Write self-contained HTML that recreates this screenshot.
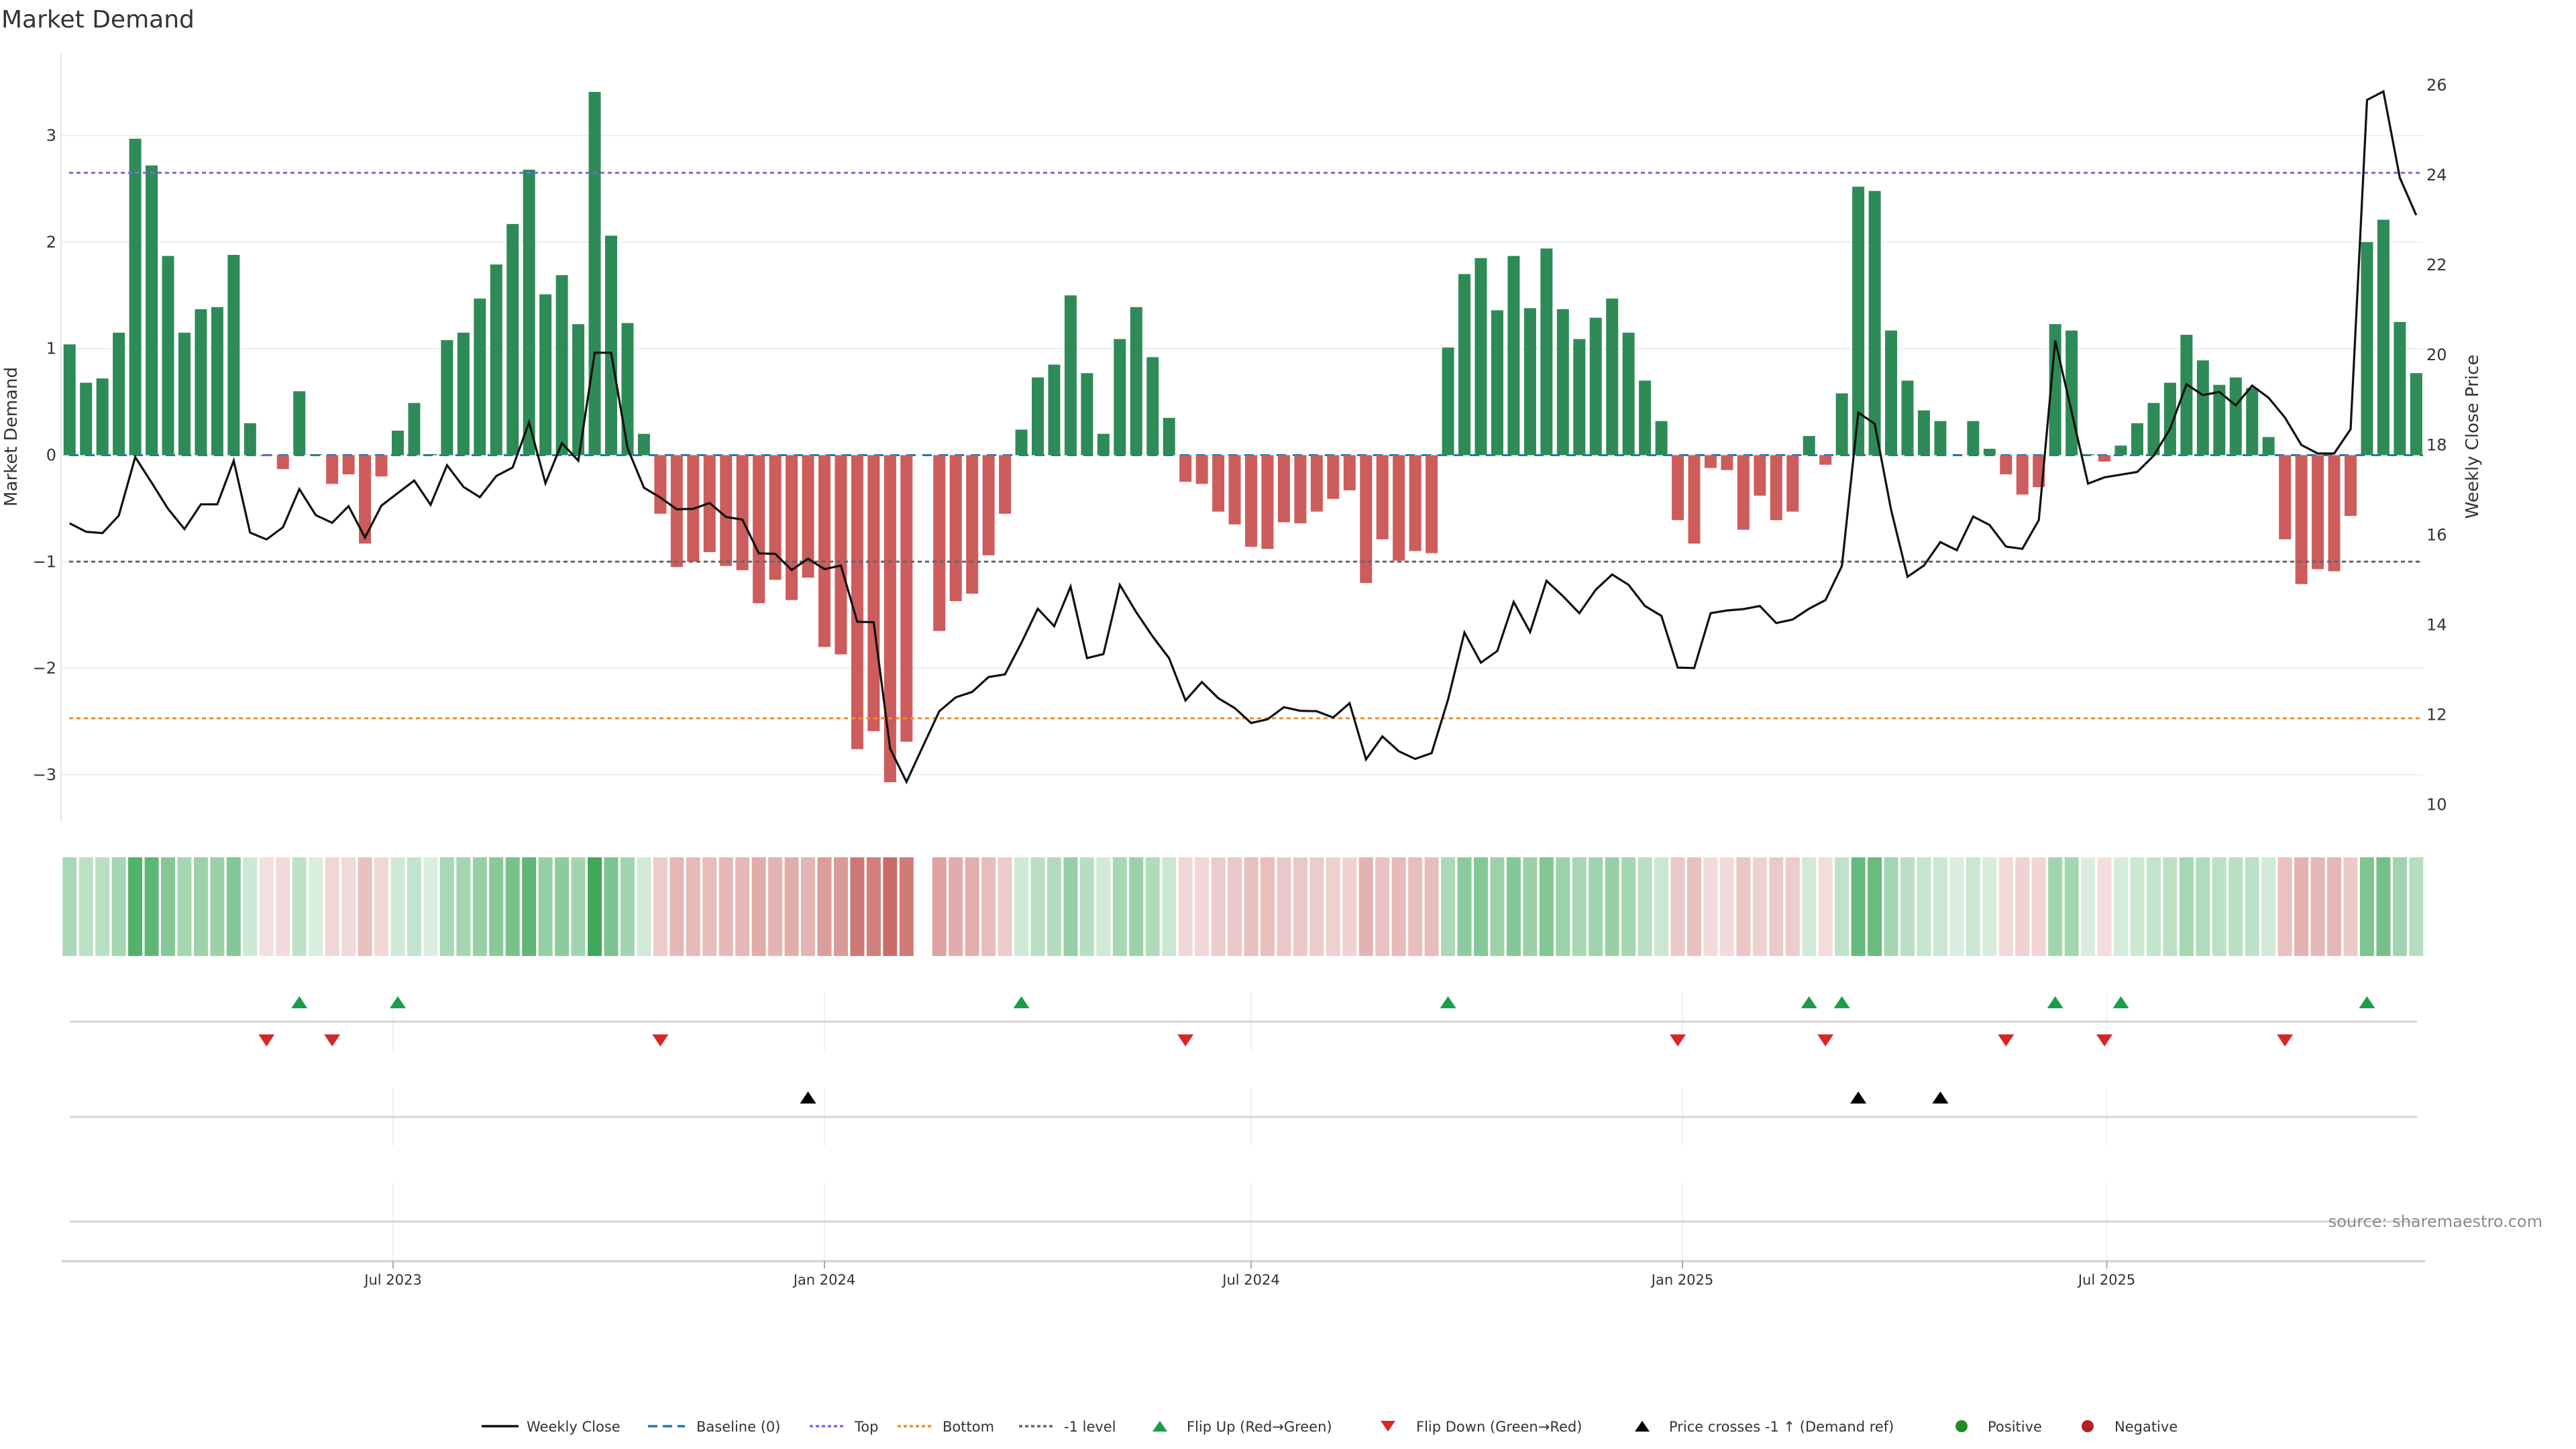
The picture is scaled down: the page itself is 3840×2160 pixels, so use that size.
<!DOCTYPE html>
<html><head><meta charset="utf-8"><style>
html,body{margin:0;padding:0;background:#fff;}
svg{display:block;font-family:"DejaVu Sans","Liberation Sans",sans-serif;}
</style></head><body>
<svg id="chart" width="3840" height="2160" viewBox="0 0 3840 2160" xmlns="http://www.w3.org/2000/svg">
<text x="2" y="41" font-size="36" fill="#333">Market Demand</text>
<g id="g-grid"></g><g id="g-ref"></g><g id="g-bars"></g><g id="g-line"></g><g id="g-axes"></g><g id="g-heat"></g><g id="g-marks"></g><g id="g-legend"></g>
<text x="3790" y="1829" font-size="24" fill="#8a8a8a" text-anchor="end">source: sharemaestro.com</text>
</svg>
<script>
const demand = [1.04,0.68,0.72,1.15,2.97,2.72,1.87,1.15,1.37,1.39,
1.88,0.30,-0.01,-0.13,0.60,0.01,-0.27,-0.18,-0.83,-0.20,
0.23,0.49,0.01,1.08,1.15,1.47,1.79,2.17,2.68,1.51,
1.69,1.23,3.41,2.06,1.24,0.20,-0.55,-1.05,-1.00,-0.91,
-1.04,-1.08,-1.39,-1.17,-1.36,-1.15,-1.80,-1.87,-2.76,-2.59,
-3.07,-2.69,null,-1.65,-1.37,-1.30,-0.94,-0.55,0.24,0.73,
0.85,1.50,0.77,0.20,1.09,1.39,0.92,0.35,-0.25,-0.27,
-0.53,-0.65,-0.86,-0.88,-0.63,-0.64,-0.53,-0.41,-0.33,-1.20,
-0.79,-0.99,-0.90,-0.92,1.01,1.70,1.85,1.36,1.87,1.38,
1.94,1.37,1.09,1.29,1.47,1.15,0.70,0.32,-0.61,-0.83,
-0.12,-0.14,-0.70,-0.38,-0.61,-0.53,0.18,-0.09,0.58,2.52,
2.48,1.17,0.70,0.42,0.32,0.00,0.32,0.06,-0.18,-0.37,
-0.30,1.23,1.17,0.01,-0.06,0.09,0.30,0.49,0.68,1.13,
0.89,0.66,0.73,0.63,0.17,-0.79,-1.21,-1.07,-1.09,-0.57,
2.00,2.21,1.25,0.77];
const closePrice = [16.26,16.07,16.04,16.43,17.73,17.16,16.58,16.13,16.68,16.68,
17.65,16.05,15.90,16.17,17.02,16.44,16.27,16.64,15.94,16.65,
16.93,17.21,16.67,17.55,17.07,16.84,17.31,17.50,18.50,17.15,
18.04,17.65,20.05,20.05,17.93,17.05,16.83,16.57,16.58,16.71,
16.40,16.34,15.59,15.58,15.22,15.47,15.24,15.32,14.07,14.06,
11.25,10.51,11.30,12.08,12.39,12.51,12.84,12.90,13.60,14.36,
13.97,14.85,13.26,13.35,14.89,14.28,13.74,13.26,12.32,12.73,
12.37,12.15,11.82,11.90,12.17,12.09,12.08,11.94,12.26,11.01,
11.52,11.19,11.02,11.15,12.34,13.83,13.16,13.42,14.51,13.84,
14.98,14.64,14.26,14.78,15.12,14.89,14.42,14.20,13.05,13.04,
14.26,14.32,14.35,14.42,14.04,14.12,14.36,14.55,15.31,18.72,
18.47,16.56,15.07,15.32,15.84,15.66,16.41,16.22,15.74,15.69,
16.33,20.32,18.74,17.14,17.28,17.34,17.40,17.76,18.36,19.35,
19.11,19.18,18.88,19.32,19.05,18.61,18.00,17.81,17.81,18.35,
25.67,25.86,23.94,23.11];
const startDate = "2023-02-13";
const flipUpIdx = [14,20,58,84,106,108,121,125,140];
const flipDownIdx = [12,16,36,68,98,107,118,124,135];
const crossIdx = [45,109,114];
const leftTicks = [-3,-2,-1,0,1,2,3];
const rightTicks = [10,12,14,16,18,20,22,24,26];
const dateTicks = ["2023-07-01","2024-01-01","2024-07-01","2025-01-01","2025-07-01"];
const dateTickLabels = ["Jul 2023","Jan 2024","Jul 2024","Jan 2025","Jul 2025"];
const refLevels = [2.65,-2.47,-1];

const NS="http://www.w3.org/2000/svg";
const DAY=86400000, T0=Date.parse("2023-07-01T00:00:00Z");
function xDate(s){return 586+(Date.parse(s+"T00:00:00Z")-T0)/DAY*3.4946;}
const t0=Date.parse(startDate+"T00:00:00Z");
function xIdx(i){return 586+(t0+i*7*DAY-T0)/DAY*3.4946;}
function yL(v){return 678.5-v*158.8;}
function yR(p){return 663.3-(p-18)*67.05;}
const PL=91, PR=3612;
function mk(tag,attrs,parent){const e=document.createElementNS(NS,tag);for(const k in attrs)e.setAttribute(k,attrs[k]);parent.appendChild(e);return e;}
const G=id=>document.getElementById(id);

const gg=G('g-grid');
leftTicks.forEach(t=>{
  const l=mk('line',{x1:PL,x2:PR,y1:yL(t),y2:yL(t),stroke:'#eceff2','stroke-width':2},gg);
  
  
  const tx=mk('text',{x:84,y:yL(t)+8,'font-size':24,fill:'#333','text-anchor':'end'},gg);
  tx.textContent=(t<0?'\u2212'+Math.abs(t):String(t));
  
  
});
rightTicks.forEach(t=>{
  const tx=mk('text',{x:3617,y:yR(t)+8,'font-size':24,fill:'#333'},gg);
  tx.textContent=String(t);
  
  
});
const ax=mk('line',{x1:PL,x2:PL,y1:80,y2:1225,stroke:'#e6e6e6','stroke-width':2},gg);


const yt=mk('text',{x:0,y:0,'font-size':26,fill:'#333','text-anchor':'middle',transform:'translate(25,651) rotate(-90)'},gg);
yt.textContent='Market Demand';


const yt2=mk('text',{x:0,y:0,'font-size':26,fill:'#333','text-anchor':'middle',transform:'translate(3694,651) rotate(-90)'},gg);
yt2.textContent='Weekly Close Price';



const gb=G('g-bars');
demand.forEach((v,i)=>{
  if(v===null||v===0)return;
  const y0=yL(0),y1=yL(v);
  const r=mk('rect',{x:xIdx(i)-9,width:18,y:Math.min(y0,y1),height:Math.max(0.8,Math.abs(y1-y0)),fill:v>=0?'#2e8b57':'#cd5c5c'},gb);
  
  
});
const gr=G('g-ref');
const bl=mk('line',{x1:PL+12,x2:PR,y1:yL(0),y2:yL(0),stroke:'#1f77b4','stroke-width':3,'stroke-dasharray':'14,10'},gr);


const refColors=['#7b68ee','#f28e2b','#666'];
const refNames=['top-level-line','bottom-level-line','minus-one-level-line'];
refLevels.forEach((v,k)=>{
  const l=mk('line',{x1:PL+12,x2:PR,y1:yL(v),y2:yL(v),stroke:refColors[k],'stroke-width':3,'stroke-dasharray':'6,5'},G('g-line'));
  
  
});
const pts=closePrice.map((p,i)=>xIdx(i).toFixed(1)+','+yR(p).toFixed(1)).join(' ');
const pl=mk('polyline',{points:pts,fill:'none',stroke:'#111','stroke-width':3.2,'stroke-linejoin':'miter'},G('g-line'));



const gh=G('g-heat');
const maxAbs=3.41;
demand.forEach((v,i)=>{
  if(v===null)return;
  const a=0.18+0.74*Math.min(1,Math.abs(v)/maxAbs);
  const pos=v>0||(v===0);
  const base=pos?[46,160,76]:[192,82,78];
  const c=base.map(b=>Math.round(255-a*(255-b)));
  const r=mk('rect',{x:xIdx(i)-10.5,width:21,y:1278,height:147,fill:'rgb('+c.join(',')+')'},gh);
  
  
});

const gm=G('g-marks');
const panels=[[1479,1566,1523],[1621,1708,1665],[1763,1880,1821]];
dateTicks.forEach(d=>{
  panels.forEach(p=>{
    const l=mk('line',{x1:xDate(d),x2:xDate(d),y1:p[0],y2:p[1],stroke:'#eef0f2','stroke-width':2},gm);
    
    
  });
});
panels.forEach(p=>{
  const l=mk('line',{x1:104,x2:3603,y1:p[2],y2:p[2],stroke:'#d4d4d4','stroke-width':3},gm);
  
  
});
const xa=mk('line',{x1:92,x2:3615,y1:1880,y2:1880,stroke:'#cfcfcf','stroke-width':3},gm);


dateTicks.forEach((d,k)=>{
  const x=xDate(d);
  const t=mk('line',{x1:x,x2:x,y1:1880,y2:1891,stroke:'#aaa','stroke-width':2},gm);
  
  
  const tx=mk('text',{x:x,y:1915,'font-size':21,fill:'#333','text-anchor':'middle'},gm);
  tx.textContent=dateTickLabels[k];
  
  
});
function tri(x,y,up,fill,name){
  const h=18,w=12;
  const p=up?`${x-w},${y+h/2} ${x+w},${y+h/2} ${x},${y-h/2}`:`${x-w},${y-h/2} ${x+w},${y-h/2} ${x},${y+h/2}`;
  const e=mk('polygon',{points:p,fill:fill},gm);
  
  
}
flipUpIdx.forEach(i=>tri(xIdx(i),1494,true,'#1a9e4a','flip-up-marker'));
flipDownIdx.forEach(i=>tri(xIdx(i),1551,false,'#d62728','flip-down-marker'));
crossIdx.forEach(i=>tri(xIdx(i),1636,true,'#000','price-cross-marker'));

const gl=G('g-legend');
const LY=2126;
function ltext(x,s,name){const t=mk('text',{x:x,y:LY+8,'font-size':21,fill:'#333'},gl);t.textContent=s;}
function lline(x1,x2,color,dash,name){const l=mk('line',{x1:x1,x2:x2,y1:LY,y2:LY,stroke:color,'stroke-width':3.5,'stroke-dasharray':dash},gl);}
lline(718,773,'#111','none','legend-weekly-close-swatch');ltext(785,'Weekly Close','legend-weekly-close');
lline(966,1021,'#1f77b4','14,8','legend-baseline-swatch');ltext(1038,'Baseline (0)','legend-baseline');
lline(1207,1261,'#7b68ee','5,4','legend-top-swatch');ltext(1274,'Top','legend-top');
lline(1338,1392,'#f28e2b','5,4','legend-bottom-swatch');ltext(1405,'Bottom','legend-bottom');
lline(1519,1573,'#666','5,4','legend-minus-one-swatch');ltext(1586,'-1 level','legend-minus-one');
function ltri(x,up,fill,name){const h=16,w=11;const p=up?`${x-w},${LY+h/2} ${x+w},${LY+h/2} ${x},${LY-h/2}`:`${x-w},${LY-h/2} ${x+w},${LY-h/2} ${x},${LY+h/2}`;const e=mk('polygon',{points:p,fill:fill},gl);}
ltri(1729,true,'#1a9e4a','legend-flip-up-swatch');ltext(1769,'Flip Up (Red\u2192Green)','legend-flip-up');
ltri(2069,false,'#d62728','legend-flip-down-swatch');ltext(2111,'Flip Down (Green\u2192Red)','legend-flip-down');
ltri(2448,true,'#000','legend-price-cross-swatch');ltext(2488,'Price crosses -1 \u2191 (Demand ref)','legend-price-cross');
const c1=mk('circle',{cx:2924,cy:LY,r:9,fill:'#228b22'},gl);
ltext(2963,'Positive','legend-positive');
const c2=mk('circle',{cx:3112,cy:LY,r:9,fill:'#b22222'},gl);
ltext(3152,'Negative','legend-negative');
</script>
</body></html>
